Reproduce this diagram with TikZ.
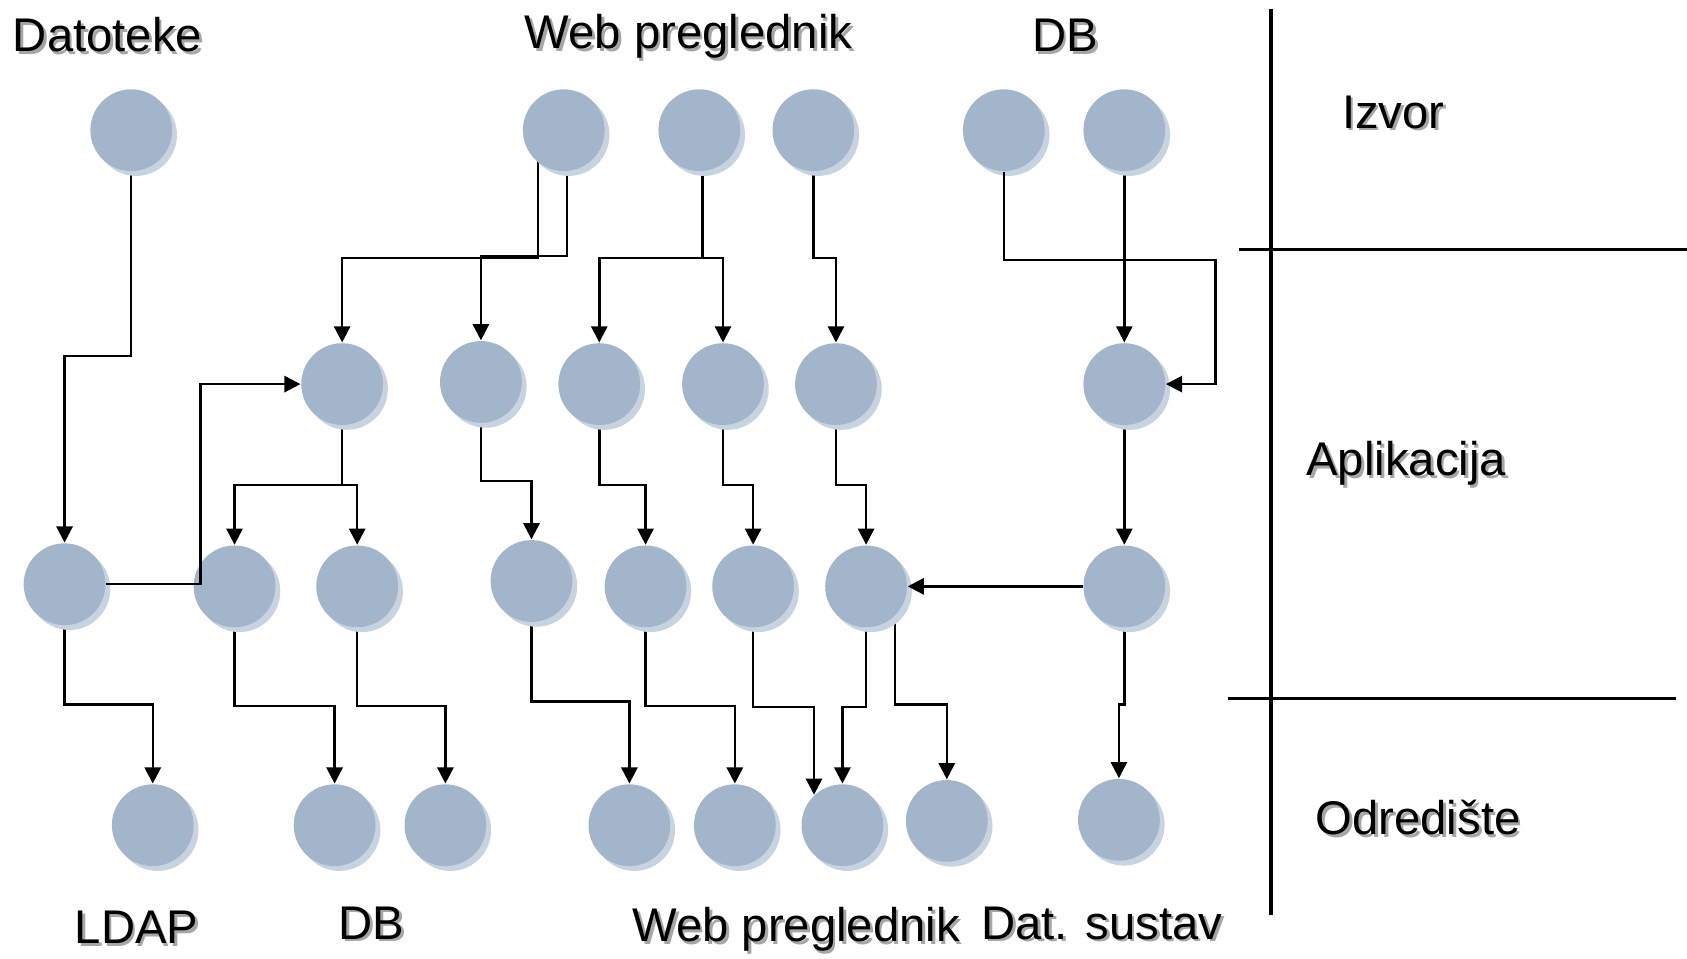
\documentclass[tikz,border=0pt]{standalone}
\usepackage{fontspec}
\setmainfont{Liberation Sans}
\usetikzlibrary{arrows.meta,shadows}
\definecolor{objfill}{HTML}{A3B5CB}
\definecolor{objrim}{HTML}{C7D3E0}
\pgfdeclarelayer{background}
\pgfsetlayers{background,main}

\begin{document}
\begin{tikzpicture}[
  x=0.1mm, y=-0.1mm,
  obj/.style={circle, fill=objfill, minimum size=7.6mm, inner sep=0pt,
              drop shadow={shadow xshift=0.45mm, shadow yshift=-0.45mm,
                           fill=objrim, opacity=1}},
  lbl/.style={anchor=base, inner sep=0pt,
              font=\fontsize{12.5}{15}\selectfont},
  lblshadow/.style={lbl, text=black!35, xshift=0.25mm, yshift=-0.25mm},
  arr/.style={draw, line width=0.65pt,
              -{Triangle[width=1.5mm, length=1.5mm]}},
  sep/.style={draw, line width=0.8pt}
]
\useasboundingbox (0,0) rectangle (1568,891);

% layer boundaries
\draw[sep, line width=1.1pt] (1181,8) -- (1181,850);
\draw[sep] (1152,232) -- (1568,232);
\draw[sep] (1141,649) -- (1558,649);

% sources
\node[obj] (T1) at (122,121) {};
\node[obj] (T2) at (524,121) {};
\node[obj] (T3) at (650,121) {};
\node[obj] (T4) at (756,121) {};
\node[obj] (T5) at (933,121) {};
\node[obj] (T6) at (1045,121) {};

% applications
\node[obj] (M1) at (318,357) {};
\node[obj] (M2) at (447,355) {};
\node[obj] (M3) at (557,357) {};
\node[obj] (M4) at (672,357) {};
\node[obj] (M5) at (777,357) {};
\node[obj] (M6) at (1045,357) {};

\node[obj] (N1) at (60,543) {};
\node[obj] (N2) at (218,545) {};
\node[obj] (N3) at (332,545) {};
\node[obj] (N4) at (494,540) {};
\node[obj] (N5) at (600,545) {};
\node[obj] (N6) at (700,545) {};
\node[obj] (N7) at (805,545) {};
\node[obj] (N8) at (1045,545) {};

% targets
\node[obj] (B1) at (142,767) {};
\node[obj] (B2) at (311,767) {};
\node[obj] (B3) at (414,767) {};
\node[obj] (B4) at (585,767) {};
\node[obj] (B5) at (683,767) {};
\node[obj] (B6) at (783,767) {};
\node[obj] (B7) at (880,763) {};
\node[obj] (B8) at (1040,762) {};

\foreach \pos/\txt [count=\i] in {
    {100,48}/Datoteke, {640,45}/Web preglednik,
    {990,48}/DB, {127,877}/LDAP, {345,873}/DB,
    {740,875}/Web preglednik, {1024,873}/Dat. sustav,
    {1295,119}/Izvor, {1307,442}/Aplikacija, {1318,776}/Odredište} {
  \node[lblshadow] (sh\i) at (\pos) {\txt};
  \node[lbl] (lbl\i) at (\pos) {\txt};
}

\begin{pgfonlayer}{background}
\draw[arr] (T1.center) -- ++(0,210) -| (N1);
\draw[arr] ([xshift=-2.4mm]T2.center) -- ++(0,119) -| (M1);
\draw[arr] ([xshift=0.3mm]T2.center) -- ++(0,117) -| (M2);
\draw[arr] ([xshift=0.3mm]T3.center) -- ++(0,119) -| (M3);
\draw[arr] ([xshift=0.3mm]T3.center) -- ++(0,119) -| (M4);
\draw[arr] (T4.center) -- ++(0,119) -| (M5);
\draw[arr] (T6) -- (M6);

\draw[arr] (M1.center) -- ++(0,94) -| (N2);
\draw[arr] (M1.center) -- ++(0,94) -| (N3);
\draw[arr] (M2.center) -- ++(0,92) -| (N4);
\draw[arr] (M3.center) -- ++(0,94) -| (N5);
\draw[arr] (M4.center) -- ++(0,94) -| (N6);
\draw[arr] (M5.center) -- ++(0,94) -| (N7);
\draw[arr] (M6) -- (N8);

\draw[arr] (N1.center) -- ++(0,112) -| (B1);
\draw[arr] (N2.center) -- ++(0,111) -| (B2);
\draw[arr] (N3.center) -- ++(0,111) -| (B3);
\draw[arr] (N4.center) -- ++(0,112) -| (B4);
\draw[arr] (N5.center) -- ++(0,111) -| (B5);
\draw[arr] (N6.center) -- ++(0,112) -| (B6.133);
\draw[arr] (N7.center) -- ++(0,112) -| (B6);
\draw[arr] ([xshift=2.7mm]N7.center) -- ++(0,110) -| (B7);
\draw[arr] (N8.center) -- ++(0,110) -| (B8);
\end{pgfonlayer}

\draw[arr] (T5.south) -- ++(0,82) -| ([xshift=4.6mm]M6.east) -- (M6.east);
\draw[arr] (N1.east) -| ([xshift=-9.3mm]M1.west) -- (M1.west);
\draw[arr] (N8) -- (N7);
\end{tikzpicture}
\end{document}
